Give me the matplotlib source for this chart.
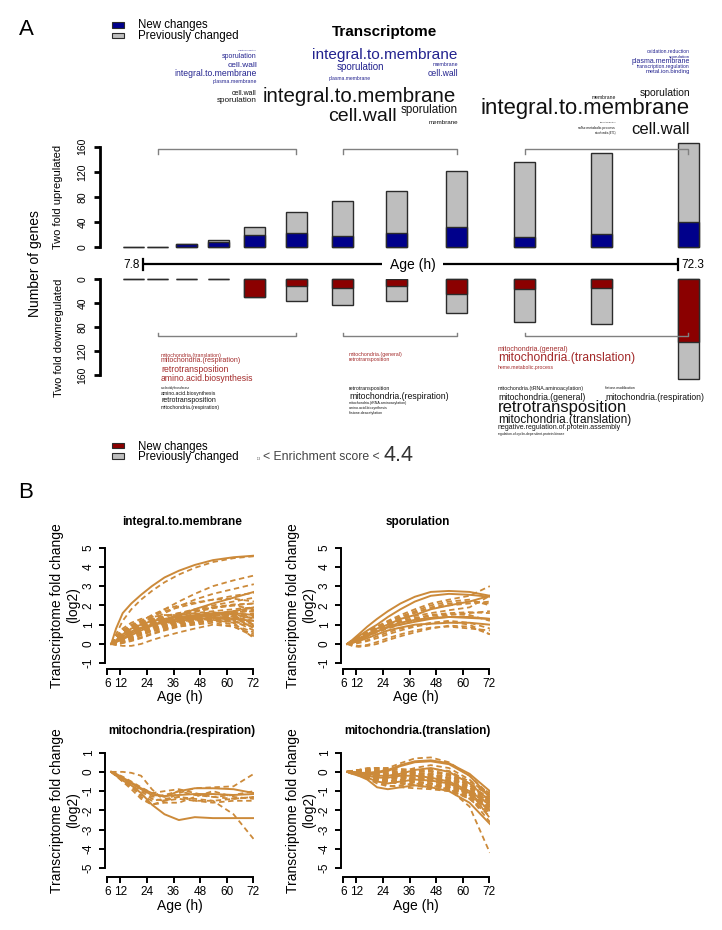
import matplotlib
matplotlib.use("Agg")
import matplotlib.pyplot as plt
from matplotlib.patches import Rectangle

plt.rcParams['font.family'] = ['Liberation Sans', 'DejaVu Sans']
plt.rcParams['axes.unicode_minus'] = False

# ------------------------------------------------------------------ data: panel A
age_start, age_end = 7.8, 72.3
up_new = [0, 0, 5, 8, 20, 23, 18, 22, 33, 16, 21, 41]
up_total = [0, 0, 5, 12, 32, 56, 74, 90, 121, 136, 150, 166]
down_new = [0, 0, 0, 0, 29, 12, 14, 12, 25, 17, 15, 104]
down_total = [0, 0, 0, 0, 29, 36, 43, 36, 57, 71, 75, 167]
yticks_a = [0, 40, 80, 120, 160]
bracket_groups = [(1, 5), (6, 8), (9, 11)]

# enrichment word clouds: (word, size in pt) ; positions are layout below
up_new_words = [
    [("oxidation.reduction", 1.6), ("sporulation", 5.0), ("cell.wall", 6.0),
     ("integral.to.membrane", 6.2), ("plasma.membrane", 3.8)],
    [("integral.to.membrane", 11.1), ("sporulation", 7.0), ("plasma.membrane", 3.6),
     ("membrane", 3.8), ("cell.wall", 6.2)],
    [("oxidation.reduction", 3.6), ("sporulation", 3.2), ("plasma.membrane", 5.0),
     ("transcription.regulation", 3.7), ("metal.ion.binding", 4.2)],
]
up_prev_words = [
    [("cell.wall", 5.0), ("sporulation", 5.9)],
    [("integral.to.membrane", 14.8), ("cell.wall", 14.0), ("sporulation", 8.4),
     ("membrane", 4.5)],
    [("sporulation", 7.5), ("membrane", 3.6), ("integral.to.membrane", 15.9),
     ("transcription.regulation", 1.2), ("sulfur.metabolic.process", 2.5),
     ("mitochondria.(ETC)", 1.8), ("cell.wall", 12.0)],
]
down_new_words = [
    [("mitochondria.(translation)", 3.8), ("mitochondria.(respiration)", 5.0),
     ("retrotransposition", 6.2), ("amino.acid.biosynthesis", 6.2)],
    [("mitochondria.(general)", 3.8), ("retrotransposition", 3.8)],
    [("mitochondria.(general)", 5.0), ("mitochondria.(translation)", 8.7),
     ("heme.metabolic.process", 3.7)],
]
down_prev_words = [
    [("nucleotidyltransferase", 2.1), ("amino.acid.biosynthesis", 3.7),
     ("retrotransposition", 5.0), ("mitochondria.(respiration)", 3.7)],
    [("retrotransposition", 3.8), ("mitochondria.(respiration)", 6.3),
     ("mitochondria.(tRNA.aminoacylation)", 2.6), ("amino.acid.biosynthesis", 2.6),
     ("histone.deacetylation", 2.6)],
    [("mitochondria.(tRNA.aminoacylation)", 3.8), ("histone.modification", 2.5),
     ("mitochondria.(general)", 6.2), ("mitochondria.(respiration)", 6.2),
     ("retrotransposition", 12.0), ("mitochondria.(translation)", 8.5),
     ("negative.regulation.of.protein.assembly", 5.0),
     ("regulation.of.cyclin-dependent.protein.kinase", 2.4)],
]
score_min, score_max = "1.3", "4.4"

# ------------------------------------------------------------------ data: panel B
ages_b = [7.8, 10.0, 13.0, 16.9, 21.3, 26.2, 31.9, 38.4, 45.6, 53.8, 63.1, 72.3]
b_titles = ["integral.to.membrane", "sporulation",
            "mitochondria.(respiration)", "mitochondria.(translation)"]
itm_solid = [
    [0, 0.8, 1.6, 2.1, 2.55, 3.0, 3.45, 3.8, 4.1, 4.35, 4.5, 4.58],
    [0, 0.1, 0.25, 0.45, 0.7, 0.95, 1.2, 1.5, 1.8, 2.1, 2.4, 2.7],
    [0, 0.2, 0.5, 0.8, 1.0, 1.2, 1.3, 1.4, 1.5, 1.6, 1.6, 1.5],
    [0, 0.1, 0.3, 0.55, 0.8, 1.0, 1.1, 1.2, 1.3, 1.35, 1.3, 1.2],
    [0, 0.15, 0.4, 0.65, 0.85, 1.0, 1.15, 1.3, 1.45, 1.55, 1.7, 1.9],
]
itm_dashed = [
    [0, 0.5, 1.2, 1.8, 2.3, 2.75, 3.2, 3.6, 3.95, 4.25, 4.45, 4.55],
    [0, 0.1, 0.35, 0.7, 1.0, 1.4, 1.8, 2.2, 2.6, 3.0, 3.3, 3.55],
    [0, 0.1, 0.3, 0.55, 0.9, 1.25, 1.6, 1.95, 2.3, 2.6, 2.85, 3.1],
    [0, 0.2, 0.5, 0.8, 1.1, 1.4, 1.7, 1.9, 2.1, 2.3, 2.5, 2.65],
    [0, 0.3, 0.6, 0.9, 1.2, 1.5, 1.8, 2.0, 2.15, 2.3, 2.35, 2.2],
    [0, 0.1, 0.3, 0.5, 0.8, 1.05, 1.3, 1.5, 1.7, 1.9, 2.05, 2.1],
    [0, 0.3, 0.6, 0.8, 1.0, 1.1, 1.2, 1.3, 1.4, 1.5, 1.4, 1.2],
    [0, 0.2, 0.4, 0.6, 0.8, 1.0, 1.15, 1.3, 1.45, 1.6, 1.5, 1.0],
    [0, 0.1, 0.3, 0.5, 0.7, 0.9, 1.05, 1.2, 1.3, 1.4, 1.2, 0.7],
    [0, 0.0, 0.1, 0.3, 0.5, 0.7, 0.9, 1.1, 1.25, 1.35, 1.1, 0.3],
    [0, -0.05, -0.1, -0.1, 0.0, 0.2, 0.4, 0.6, 0.8, 1.0, 0.9, 0.5],
    [0, 0.4, 0.8, 1.1, 1.3, 1.4, 1.5, 1.5, 1.6, 1.7, 1.8, 1.9],
    [0, 0.2, 0.5, 0.8, 1.1, 1.3, 1.45, 1.6, 1.75, 1.9, 2.0, 2.1],
    [0, 0.3, 0.7, 1.0, 1.2, 1.3, 1.3, 1.35, 1.4, 1.45, 1.3, 1.1],
    [0, 0.1, 0.2, 0.4, 0.6, 0.85, 1.0, 1.1, 1.2, 1.3, 1.35, 1.4],
    [0, 0.15, 0.35, 0.6, 0.9, 1.1, 1.2, 1.25, 1.3, 1.35, 1.45, 1.6],
    [0, 0.05, 0.15, 0.3, 0.5, 0.7, 0.85, 1.0, 1.1, 1.2, 1.0, 0.6],
    [0, 0.25, 0.5, 0.75, 0.95, 1.1, 1.25, 1.45, 1.65, 1.85, 2.0, 1.8],
    [0, 0.35, 0.7, 0.95, 1.1, 1.2, 1.25, 1.3, 1.4, 1.5, 1.55, 1.3],
    [0, 0.0, 0.05, 0.2, 0.35, 0.55, 0.75, 0.95, 1.1, 1.25, 1.2, 0.9],
    [0, 0.2, 0.4, 0.7, 1.0, 1.2, 1.4, 1.6, 1.8, 2.0, 2.2, 2.4],
    [0, 0.1, 0.2, 0.35, 0.55, 0.75, 0.95, 1.15, 1.35, 1.55, 1.7, 1.8],
    [0, -0.05, 0.05, 0.15, 0.3, 0.5, 0.7, 0.9, 1.05, 1.2, 1.15, 0.95],
    [0, 0.3, 0.5, 0.7, 0.9, 1.05, 1.2, 1.35, 1.5, 1.6, 1.65, 1.7],
    [0, 0.2, 0.45, 0.7, 0.95, 1.15, 1.3, 1.4, 1.55, 1.65, 1.5, 1.35],
    [0, 0.1, 0.25, 0.45, 0.7, 0.9, 1.1, 1.25, 1.4, 1.5, 1.45, 0.8],
    [0, 0.25, 0.55, 0.85, 1.05, 1.15, 1.2, 1.25, 1.3, 1.25, 1.1, 0.9],
    [0, 0.05, 0.2, 0.4, 0.6, 0.8, 0.95, 1.05, 1.15, 1.25, 1.3, 1.45],
    [0, 0.15, 0.3, 0.5, 0.75, 0.95, 1.1, 1.2, 1.3, 1.45, 1.6, 1.75],
    [0, 0.3, 0.6, 0.85, 1.0, 1.05, 1.1, 1.15, 1.25, 1.35, 1.25, 1.0],
    [0, 0.0, 0.1, 0.25, 0.45, 0.65, 0.8, 0.9, 1.0, 1.1, 0.9, 0.4],
    [0, 0.1, 0.3, 0.6, 0.85, 1.0, 1.05, 1.1, 1.2, 1.3, 1.4, 1.55],
    [0, 0.2, 0.35, 0.55, 0.7, 0.85, 1.0, 1.15, 1.3, 1.45, 1.55, 1.5],
]
spo_solid = [
    [0, 0.2, 0.5, 0.9, 1.3, 1.7, 2.1, 2.45, 2.7, 2.75, 2.7, 2.5],
    [0, 0.15, 0.4, 0.7, 1.0, 1.4, 1.8, 2.2, 2.5, 2.6, 2.55, 2.45],
    [0, 0.1, 0.3, 0.5, 0.8, 1.0, 1.3, 1.5, 1.8, 2.0, 2.2, 2.5],
    [0, 0.1, 0.25, 0.45, 0.65, 0.85, 1.0, 1.15, 1.3, 1.4, 1.4, 1.3],
    [0, 0.05, 0.15, 0.3, 0.5, 0.7, 0.85, 1.0, 1.05, 1.1, 1.1, 1.0],
    [0, 0.05, 0.2, 0.4, 0.65, 0.9, 1.1, 1.25, 1.35, 1.4, 1.35, 1.3],
]
spo_dashed = [
    [0, 0.1, 0.3, 0.6, 0.9, 1.2, 1.5, 1.8, 2.1, 2.3, 2.5, 3.0],
    [0, 0.1, 0.3, 0.5, 0.8, 1.1, 1.4, 1.7, 2.0, 2.2, 2.3, 2.0],
    [0, 0.15, 0.35, 0.6, 0.85, 1.05, 1.25, 1.45, 1.6, 1.75, 1.9, 2.5],
    [0, 0.1, 0.2, 0.4, 0.6, 0.8, 1.0, 1.2, 1.35, 1.5, 1.6, 1.7],
    [0, 0.0, 0.1, 0.2, 0.4, 0.6, 0.8, 0.95, 1.1, 1.2, 1.1, 0.8],
    [0, -0.1, -0.15, -0.1, 0.0, 0.2, 0.4, 0.6, 0.8, 0.95, 0.9, 0.5],
    [0, -0.05, -0.1, -0.05, 0.1, 0.3, 0.5, 0.7, 0.85, 0.9, 0.8, 0.7],
    [0, 0.1, 0.3, 0.55, 0.8, 1.0, 1.2, 1.35, 1.5, 1.6, 1.65, 1.6],
    [0, 0.05, 0.2, 0.4, 0.7, 1.0, 1.3, 1.6, 1.9, 2.1, 2.2, 2.1],
    [0, 0.0, 0.05, 0.15, 0.3, 0.5, 0.7, 0.9, 1.05, 1.15, 1.0, 0.5],
    [0, 0.2, 0.4, 0.65, 0.9, 1.15, 1.4, 1.65, 1.85, 2.0, 2.1, 2.2],
    [0, 0.1, 0.25, 0.45, 0.7, 0.95, 1.15, 1.3, 1.45, 1.55, 1.5, 1.2],
]
res_solid = [
    [0, -0.2, -0.45, -0.7, -1.1, -1.7, -2.2, -2.5, -2.35, -2.4, -2.4, -2.4],
    [0, -0.15, -0.35, -0.6, -0.9, -1.2, -1.25, -1.2, -1.15, -1.15, -1.2, -1.15],
    [0, -0.1, -0.3, -0.55, -0.85, -1.1, -1.3, -1.0, -0.85, -0.85, -0.9, -1.1],
]
res_dashed = [
    [0, 0, 0, -0.05, -0.2, -0.9, -1.5, -1.1, -0.85, -0.8, -0.75, -0.1],
    [0, -0.2, -0.5, -0.8, -1.2, -1.5, -1.4, -1.3, -1.4, -1.5, -2.2, -3.5],
    [0, -0.15, -0.4, -0.7, -1.3, -1.7, -1.5, -1.4, -1.5, -1.5, -1.4, -1.3],
    [0, -0.1, -0.3, -0.55, -0.9, -1.3, -1.2, -1.0, -1.2, -1.3, -1.2, -1.0],
    [0, -0.2, -0.4, -0.7, -1.0, -1.4, -1.5, -1.3, -1.5, -1.6, -1.5, -1.5],
    [0, -0.1, -0.25, -0.5, -0.8, -1.1, -1.0, -0.9, -1.1, -1.3, -1.4, -1.3],
    [0, -0.2, -0.5, -0.9, -1.4, -1.7, -1.6, -1.6, -1.3, -1.0, -1.3, -1.4],
]
tra_solid = [
    [0, 0, -0.05, -0.05, 0, 0.1, 0.35, 0.55, 0.6, 0.45, -0.1, -1.0],
    [0, 0, -0.05, -0.1, -0.05, 0.05, 0.3, 0.5, 0.55, 0.4, -0.2, -1.3],
    [0, -0.05, -0.15, -0.3, -0.5, -0.6, -0.5, -0.4, -0.45, -0.6, -1.1, -2.0],
    [0, -0.1, -0.2, -0.4, -0.8, -0.9, -0.8, -0.7, -0.8, -1.0, -1.6, -2.7],
    [0, -0.05, -0.1, -0.2, -0.3, -0.3, -0.2, -0.2, -0.3, -0.5, -1.0, -1.7],
    [0, 0, -0.05, -0.1, -0.2, -0.2, -0.1, 0.1, 0.2, 0.0, -0.6, -1.5],
]
tra_dashed = [
    [0, 0.05, 0.05, 0.05, 0.1, 0.2, 0.45, 0.7, 0.75, 0.5, -0.2, -1.2],
    [0, 0, -0.1, -0.2, -0.3, -0.4, -0.45, -0.5, -0.6, -0.9, -1.8, -4.2],
    [0, 0, 0.05, 0.1, 0.1, 0.05, 0, -0.05, -0.1, -0.3, -0.8, -1.6],
    [0, 0.05, 0.1, 0.15, 0.2, 0.15, 0.1, 0.05, 0.0, -0.2, -0.7, -1.4],
    [0, -0.05, -0.1, -0.2, -0.35, -0.45, -0.5, -0.55, -0.6, -0.8, -1.3, -2.1],
    [0, 0, -0.05, -0.1, -0.15, -0.2, -0.25, -0.3, -0.4, -0.6, -1.2, -2.0],
    [0, 0.05, 0.1, 0.15, 0.2, 0.2, 0.15, 0.1, 0.05, -0.1, -0.6, -1.2],
    [0, -0.05, -0.15, -0.25, -0.4, -0.5, -0.45, -0.4, -0.5, -0.7, -1.2, -1.9],
    [0, 0, -0.1, -0.2, -0.3, -0.35, -0.3, -0.2, -0.25, -0.45, -0.9, -1.6],
    [0, 0.05, 0.05, 0.0, -0.05, -0.1, -0.05, 0.0, 0.05, -0.15, -0.7, -1.5],
    [0, -0.05, -0.1, -0.15, -0.2, -0.25, -0.3, -0.35, -0.45, -0.65, -1.1, -1.8],
    [0, 0, 0, -0.05, -0.1, -0.1, 0.0, 0.2, 0.35, 0.2, -0.4, -1.3],
    [0, -0.1, -0.2, -0.35, -0.6, -0.75, -0.7, -0.6, -0.7, -0.9, -1.4, -2.2],
    [0, 0.05, 0.1, 0.1, 0.05, 0.0, -0.05, -0.1, -0.2, -0.4, -1.0, -2.4],
    [0, 0, -0.05, -0.1, -0.2, -0.3, -0.35, -0.3, -0.35, -0.5, -1.0, -1.5],
    [0, 0.05, 0.1, 0.2, 0.2, 0.1, 0.0, -0.1, -0.15, -0.3, -0.7, -1.1],
    [0, -0.05, -0.1, -0.25, -0.4, -0.55, -0.6, -0.65, -0.7, -0.85, -1.3, -2.6],
    [0, 0, -0.05, -0.15, -0.25, -0.3, -0.2, -0.1, -0.15, -0.35, -0.85, -1.4],
    [0, 0.05, 0.0, -0.05, -0.1, -0.15, -0.1, 0.05, 0.15, 0.05, -0.5, -1.1],
    [0, -0.05, -0.15, -0.3, -0.45, -0.5, -0.4, -0.3, -0.35, -0.55, -1.05, -1.7],
    [0, 0, 0.05, 0.05, 0.0, -0.05, -0.1, -0.15, -0.25, -0.5, -1.2, -2.0],
    [0, -0.05, -0.1, -0.1, -0.15, -0.2, -0.15, -0.05, -0.1, -0.3, -0.8, -1.3],
    [0, -0.05, -0.15, -0.3, -0.5, -0.7, -0.8, -0.85, -0.9, -1.0, -1.3, -1.9],
    [0, 0, -0.1, -0.2, -0.35, -0.5, -0.6, -0.7, -0.75, -0.8, -1.1, -1.6],
    [0, 0.05, 0.0, -0.1, -0.2, -0.3, -0.4, -0.5, -0.6, -0.75, -1.2, -1.8],
    [0, -0.05, -0.1, -0.2, -0.3, -0.45, -0.55, -0.7, -0.85, -0.95, -1.4, -2.3],
    [0, 0.05, 0.1, 0.1, 0.0, -0.1, -0.25, -0.35, -0.45, -0.6, -1.0, -1.5],
]
b_series = [(itm_solid, itm_dashed), (spo_solid, spo_dashed),
            (res_solid, res_dashed), (tra_solid, tra_dashed)]
b_ylims = [(-1, 5), (-1, 5), (-5, 1), (-5, 1)]
b_xticks = [6, 12, 24, 36, 48, 60, 72]

# ------------------------------------------------------------------ style
NAVY = '#00008B'
DRED = '#8B0000'
GRAY = '#BEBEBE'
EDGE = '#2b2b2b'
BLUE_TXT = '#23238f'
RED_TXT = '#a32a2a'
BLK_TXT = '#111111'
LINE_C = '#CC8A3A'

W, H = 722, 930
fig = plt.figure(figsize=(W / 100, H / 100), dpi=100)


def fxy(x, y):
    return x / W, 1 - y / H


def add_ax(l, t, r, b):
    return fig.add_axes([l / W, 1 - b / H, (r - l) / W, (b - t) / H])


def ftext(x, y, s, **kw):
    X, Y = fxy(x, y)
    return fig.text(X, Y, s, **kw)


# ------------------------------------------------------------------ panel A
px_per_h = (678 - 143) / (age_end - age_start)
x_left = age_start - 43 / px_per_h
x_right = age_start + (712 - 143) / px_per_h
bar_x = [6.6, 9.55, 13.0, 16.9, 21.3, 26.25, 31.9, 38.35, 45.6, 53.8, 63.1, 73.55]
bw = 21 / px_per_h

up_px = 100.6 / 160.0
ax_up = add_ax(100, 140, 712, 247.3)
ax_up.set_xlim(x_left, x_right)
ax_up.set_ylim(0, 107.3 / up_px)
ax_up.bar(bar_x, up_total, width=bw, color=GRAY, edgecolor=EDGE, lw=1, clip_on=False)
ax_up.bar(bar_x, up_new, width=bw, color=NAVY, edgecolor=EDGE, lw=1, clip_on=False)

dn_px = 96.0 / 160.0
ax_dn = add_ax(100, 275, 712, 385)
ax_dn.set_xlim(x_left, x_right)
ax_dn.set_ylim((385 - 279.3) / dn_px, -(279.3 - 275) / dn_px)
ax_dn.bar(bar_x, down_total, width=bw, color=GRAY, edgecolor=EDGE, lw=1, clip_on=False)
ax_dn.bar(bar_x, down_new, width=bw, color=DRED, edgecolor=EDGE, lw=1, clip_on=False)

for ax in (ax_up, ax_dn):
    for s in ('top', 'right', 'bottom'):
        ax.spines[s].set_visible(False)
    ax.spines['left'].set_bounds(0, 160)
    ax.spines['left'].set_linewidth(2.0)
    ax.spines['left'].set_color('black')
    ax.set_xticks([])
    ax.set_yticks(yticks_a)
    ax.set_yticklabels([str(v) for v in yticks_a], rotation=90, va='center')
    ax.tick_params(axis='y', length=4, width=2.0, labelsize=7.5, pad=5.0)
    ax.patch.set_alpha(0)

# brackets
for (i0, i1) in bracket_groups:
    xa, xb = bar_x[i0], bar_x[i1]
    ax_up.plot([xa, xa, xb, xb], [148.5, 156.5, 156.5, 148.5], color='#808080',
               lw=1.0, clip_on=False, zorder=5)
    ax_dn.plot([xa, xa, xb, xb], [89.5, 94.5, 94.5, 89.5], color='#808080',
               lw=1.0, clip_on=False, zorder=5)

# age axis
ax_age = add_ax(100, 254, 712, 275)
ax_age.set_xlim(x_left, x_right)
ax_age.set_ylim(-1, 1)
ax_age.axis('off')
ax_age.plot([age_start, age_end], [0, 0], color='black', lw=1.6, solid_capstyle='butt')
ax_age.plot([age_start, age_start], [-0.55, 0.55], color='black', lw=1.6)
ax_age.plot([age_end, age_end], [-0.55, 0.55], color='black', lw=1.6)
ax_age.text(age_start - 0.35, 0, f"{age_start}", ha='right', va='center', fontsize=8.5)
ax_age.text(age_end + 0.45, 0, f"{age_end}", ha='left', va='center', fontsize=8.5)
ax_age.text(7.8 + (412.5 - 143) / px_per_h, 0, "Age (h)", ha='center', va='center',
            fontsize=10, bbox=dict(fc='white', ec='none', pad=5.5), zorder=5)

# axis titles
ftext(35, 263.5, "Number of genes", rotation=90, ha='center', va='center', fontsize=10)
ftext(58, 196.5, "Two fold upregulated", rotation=90, ha='center', va='center', fontsize=8)
ftext(59, 337.5, "Two fold downregulated", rotation=90, ha='center', va='center',
      fontsize=8)

# panel letter, title, legends
ftext(26, 29.5, "A", ha='center', va='center', fontsize=16)
ftext(384, 32, "Transcriptome", ha='center', va='center', fontsize=11, fontweight='bold')


def legend_box(ytop, color):
    X, Y = fxy(112, ytop + 5.2)
    fig.patches.append(Rectangle((X, Y), 12 / W, 5.2 / H, transform=fig.transFigure,
                                 facecolor=color, edgecolor=EDGE, lw=0.8))


legend_box(22.4, NAVY)
legend_box(32.8, GRAY)
ftext(138, 28.3, "New changes", ha='left', va='baseline', fontsize=8.3)
ftext(138, 38.6, "Previously changed", ha='left', va='baseline', fontsize=8.3)

legend_box(442.7, DRED)
legend_box(453.5, GRAY)
ftext(138, 449.5, "New changes", ha='left', va='baseline', fontsize=8.3)
ftext(138, 459.8, "Previously changed", ha='left', va='baseline', fontsize=8.3)
ftext(261, 459.5, score_min, ha='right', va='baseline', fontsize=2.2, color='#444444')
ftext(263, 459.5, "< Enrichment score <", ha='left', va='baseline', fontsize=8.8,
      color='#444444')
ftext(383, 461, score_max, ha='left', va='baseline', fontsize=15.5, color='#333333')

# word-cloud layout (x, y, ha) for each word
up_new_pos = [
    [(257, 50.5, 'right'), (257, 56, 'right'), (257, 65.5, 'right'),
     (257, 73.3, 'right'), (257, 81, 'right')],
    [(312, 55.2, 'left'), (337, 67.5, 'left'), (329, 78.3, 'left'),
     (458, 64.0, 'right'), (458, 73.3, 'right')],
    [(690, 51.7, 'right'), (690, 56.7, 'right'), (690, 61.7, 'right'),
     (690, 66.7, 'right'), (690, 71.7, 'right')],
]
up_prev_pos = [
    [(257, 93.3, 'right'), (257, 100.5, 'right')],
    [(263, 96.5, 'left'), (328, 116.5, 'left'), (458, 110.5, 'right'),
     (458, 122.5, 'right')],
    [(690, 93.3, 'right'), (616, 97.3, 'right'), (690, 108.8, 'right'),
     (616, 122.3, 'right'), (616, 127.7, 'right'), (616, 132.7, 'right'),
     (690, 130, 'right')],
]
down_new_pos = [
    [(161, 355, 'left'), (161, 360.7, 'left'), (161, 369.3, 'left'), (161, 378.3, 'left')],
    [(349, 354.7, 'left'), (349, 360, 'left')],
    [(498, 349.3, 'left'), (498, 358.3, 'left'), (498, 367.3, 'left')],
]
down_prev_pos = [
    [(161, 388, 'left'), (161, 394, 'left'), (161, 401, 'left'), (161, 407, 'left')],
    [(349, 388.3, 'left'), (349, 396.7, 'left'), (349, 403.3, 'left'),
     (349, 408.3, 'left'), (349, 413.3, 'left')],
    [(498, 388.3, 'left'), (605, 388.3, 'left'), (498, 397, 'left'), (605, 397, 'left'),
     (498, 407.6, 'left'), (498, 419.8, 'left'), (498, 427.6, 'left'), (498, 433.5, 'left')],
]

for words, poss, col in ((up_new_words, up_new_pos, BLUE_TXT),
                         (up_prev_words, up_prev_pos, BLK_TXT),
                         (down_new_words, down_new_pos, RED_TXT),
                         (down_prev_words, down_prev_pos, BLK_TXT)):
    for grp_w, grp_p in zip(words, poss):
        for (w, sz), (x, y, ha) in zip(grp_w, grp_p):
            ftext(x, y, w, ha=ha, va='center', fontsize=sz, color=col)

# ------------------------------------------------------------------ panel B
ftext(26, 492, "B", ha='center', va='center', fontsize=16)

# layout per subplot: left px, axis-bottom px, pad below lowest tick (data units),
# title y, xlabel y
b_layout = [(105, 669, 0.30, 522, 697), (341, 669, 0.30, 522, 697),
            (105, 876.7, 0.44, 731, 905.5), (341, 876.7, 0.44, 731, 905.5)]
px_h = 2.212
px_u = 19.27
for (lx, by, padlo, ty, agey), (sol, das), (ylo, yhi), title in zip(
        b_layout, b_series, b_ylims, b_titles):
    width = (72.5 - 5) * px_h
    height = (yhi - ylo + padlo + 0.3) * px_u
    ax = add_ax(lx, by - height, lx + width, by)
    ax.set_xlim(5, 72.5)
    ax.set_ylim(ylo - padlo, yhi + 0.3)
    for s in das:
        ax.plot(ages_b, s, color=LINE_C, lw=1.3, ls=(0, (3.0, 2.0)))
    for s in sol:
        ax.plot(ages_b, s, color=LINE_C, lw=1.4)
    for s in ('top', 'right'):
        ax.spines[s].set_visible(False)
    ax.spines['left'].set_bounds(ylo, yhi)
    ax.spines['bottom'].set_bounds(6, 72)
    for s in ('left', 'bottom'):
        ax.spines[s].set_linewidth(1.4)
    yt = list(range(ylo, yhi + 1))
    ax.set_yticks(yt)
    ax.set_yticklabels([str(v) for v in yt], rotation=90, va='center')
    ax.set_xticks(b_xticks)
    ax.set_xticklabels([str(v) for v in b_xticks])
    ax.tick_params(axis='y', length=4, width=1.4, labelsize=8.5, pad=3.5)
    ax.tick_params(axis='x', length=4, width=1.4, labelsize=8.5, pad=2.5)
    ax.patch.set_alpha(0)
    cx = lx + width / 2
    ftext(cx + 2, ty, title, ha='center', va='center', fontsize=8.5, fontweight='bold')
    ftext(cx, agey, "Age (h)", ha='center', va='center', fontsize=10)
    y_top_tick = by - (padlo + (yhi - ylo)) * px_u
    cy = (y_top_tick + by - padlo * px_u) / 2
    ftext(lx - 48, cy, "Transcriptome fold change", rotation=90, ha='center',
          va='center', fontsize=10)
    ftext(lx - 32, cy, "(log2)", rotation=90, ha='center', va='center', fontsize=10)

fig.savefig("out.png", dpi=100)
